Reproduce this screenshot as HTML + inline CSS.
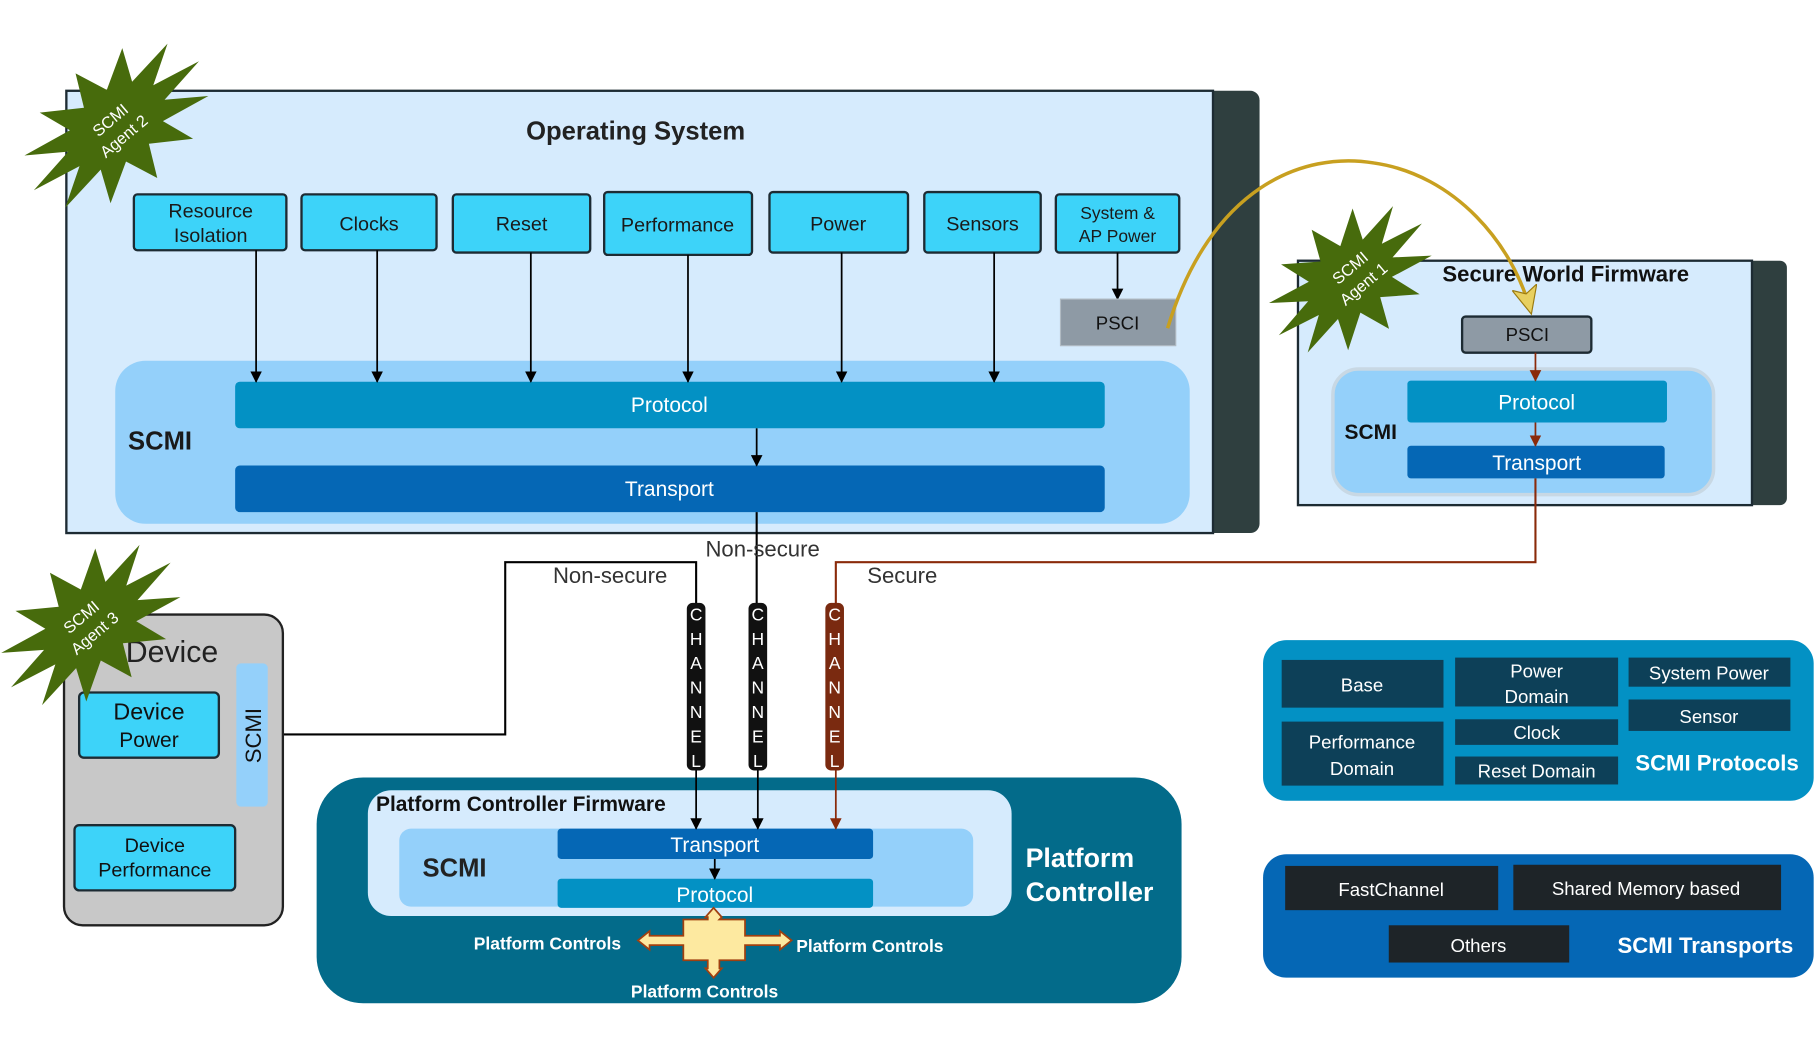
<!DOCTYPE html>
<html><head><meta charset="utf-8"><style>
html,body{margin:0;padding:0;background:#fff;}
svg{display:block;}
text{font-family:"Liberation Sans",sans-serif;}
</style></head><body>
<svg width="1816" height="1044" viewBox="0 0 1560 897" preserveAspectRatio="none" xmlns="http://www.w3.org/2000/svg">
<defs>
<marker id="ab" markerWidth="10" markerHeight="10" refX="9" refY="5" orient="auto" markerUnits="userSpaceOnUse"><path d="M0,0 L10,5 L0,10 z" fill="#000"/></marker>
<marker id="ar" markerWidth="10" markerHeight="10" refX="9" refY="5" orient="auto" markerUnits="userSpaceOnUse"><path d="M0,0 L10,5 L0,10 z" fill="#8a2a0a"/></marker>
<marker id="ag" markerWidth="26" markerHeight="22" refX="22" refY="11" orient="auto" markerUnits="userSpaceOnUse"><path d="M0,0 L24,11 L0,22 L6,11 z" fill="#e8d060" stroke="#9a7a10"/></marker>
<polygon id="star" points="60,0 30.9,8.3 52,30 22.6,22.6 30,52 8.3,30.9 0,60 -8.3,30.9 -30,52 -22.6,22.6 -52,30 -30.9,8.3 -60,0 -30.9,-8.3 -52,-30 -22.6,-22.6 -30,-52 -8.3,-30.9 0,-60 8.3,-30.9 30,-52 22.6,-22.6 52,-30 30.9,-8.3"/>
</defs>

<!-- Operating System -->
<rect x="1020" y="78" width="62" height="380" rx="8" fill="#2f3f3f"/>
<rect x="57" y="78" width="985" height="380" fill="#d6ebfd" stroke="#1d2b33" stroke-width="2"/>
<text x="546" y="120" font-size="22" font-weight="bold" text-anchor="middle" fill="#222">Operating System</text>

<g stroke="#1d2b33" stroke-width="2" fill="#3dd3f9">
<rect x="115" y="167" width="131" height="48" rx="3"/>
<rect x="259" y="167" width="116" height="48" rx="3"/>
<rect x="389" y="167" width="118" height="50" rx="3"/>
<rect x="519" y="165" width="127" height="54" rx="3"/>
<rect x="661" y="165" width="119" height="52" rx="3"/>
<rect x="794" y="165" width="100" height="52" rx="3"/>
<rect x="907" y="167" width="106" height="50" rx="3"/>
</g>
<g font-size="17" text-anchor="middle" fill="#1a1a1a">
<text x="181" y="187">Resource</text><text x="181" y="208">Isolation</text>
<text x="317" y="198">Clocks</text>
<text x="448" y="198">Reset</text>
<text x="582" y="199">Performance</text>
<text x="720" y="198">Power</text>
<text x="844" y="198">Sensors</text>
<text x="960" y="188" font-size="15">System &amp;</text><text x="960" y="208" font-size="15">AP Power</text>
</g>

<rect x="99" y="310" width="923" height="140" rx="26" fill="#94d0fa"/>
<text x="110" y="386" font-size="22" font-weight="bold" fill="#1a1a1a">SCMI</text>
<rect x="202" y="328" width="747" height="40" rx="4" fill="#0391c4"/>
<rect x="202" y="400" width="747" height="40" rx="4" fill="#0567b5"/>
<text x="575" y="354" font-size="18" fill="#fff" text-anchor="middle">Protocol</text>
<text x="575" y="426" font-size="18" fill="#fff" text-anchor="middle">Transport</text>

<g stroke="#000" stroke-width="1.5" marker-end="url(#ab)">
<line x1="220" y1="215" x2="220" y2="328"/>
<line x1="324" y1="215" x2="324" y2="328"/>
<line x1="456" y1="217" x2="456" y2="328"/>
<line x1="591" y1="219" x2="591" y2="328"/>
<line x1="723" y1="217" x2="723" y2="328"/>
<line x1="854" y1="217" x2="854" y2="328"/>
<line x1="960" y1="217" x2="960" y2="257"/>
<line x1="650" y1="368" x2="650" y2="400"/>
</g>
<rect x="911" y="257" width="99" height="40" fill="#8e9aa5" stroke="#b0bac2"/>
<text x="960" y="283" font-size="16" text-anchor="middle" fill="#111">PSCI</text>

<!-- Secure world -->
<rect x="1490" y="224" width="45" height="210" rx="6" fill="#2f3f3f"/>
<rect x="1115" y="224" width="390" height="210" fill="#d6ebfd" stroke="#1d2b33" stroke-width="2"/>
<text x="1345" y="242" font-size="19" font-weight="bold" text-anchor="middle" fill="#111">Secure World Firmware</text>
<rect x="1145" y="317" width="327" height="108" rx="22" fill="#94d0fa" stroke="#c8d8e4" stroke-width="3"/>
<text x="1155" y="377" font-size="18" font-weight="bold" fill="#111">SCMI</text>
<rect x="1256" y="272" width="111" height="31" rx="3" fill="#8e9aa5" stroke="#1d2b33" stroke-width="2"/>
<text x="1312" y="293" font-size="16" text-anchor="middle" fill="#111">PSCI</text>
<rect x="1209" y="327" width="223" height="36" rx="3" fill="#0391c4"/>
<rect x="1209" y="383" width="221" height="28" rx="3" fill="#0567b5"/>
<text x="1320" y="352" font-size="18" fill="#fff" text-anchor="middle">Protocol</text>
<text x="1320" y="404" font-size="18" fill="#fff" text-anchor="middle">Transport</text>
<g stroke="#8a2a0a" stroke-width="1.5" marker-end="url(#ar)">
<line x1="1319" y1="303" x2="1319" y2="327"/>
<line x1="1319" y1="363" x2="1319" y2="383"/>
</g>

<!-- curved gold arrow -->
<path d="M1003,282 C1040,160 1120,130 1180,140 C1250,150 1300,210 1315,268" fill="none" stroke="#c8a020" stroke-width="3" marker-end="url(#ag)"/>

<!-- connectors -->
<g fill="none" stroke-width="1.8">
<path d="M650,440 L650,520" stroke="#000"/>
<path d="M230,631 L434,631 L434,483 L598,483 L598,520" stroke="#000"/>
<path d="M1319,411 L1319,483 L718,483 L718,520" stroke="#8a2a0a"/>
</g>
<text x="606" y="478" font-size="19" fill="#333">Non-secure</text>
<text x="475" y="501" font-size="19" fill="#333">Non-secure</text>
<text x="745" y="501" font-size="19" fill="#333">Secure</text>

<!-- channels -->
<rect x="590" y="518" width="16" height="144" rx="5" fill="#111"/>
<rect x="643" y="518" width="16" height="144" rx="5" fill="#111"/>
<rect x="709" y="518" width="16" height="144" rx="5" fill="#7a2a10"/>
<g font-size="15" fill="#fff" text-anchor="middle">
<text x="598" y="533">C</text><text x="598" y="554">H</text><text x="598" y="575">A</text><text x="598" y="596">N</text><text x="598" y="617">N</text><text x="598" y="638">E</text><text x="598" y="659">L</text>
<text x="651" y="533">C</text><text x="651" y="554">H</text><text x="651" y="575">A</text><text x="651" y="596">N</text><text x="651" y="617">N</text><text x="651" y="638">E</text><text x="651" y="659">L</text>
<text x="717" y="533">C</text><text x="717" y="554">H</text><text x="717" y="575">A</text><text x="717" y="596">N</text><text x="717" y="617">N</text><text x="717" y="638">E</text><text x="717" y="659">L</text>
</g>

<!-- Platform controller -->
<rect x="272" y="668" width="743" height="194" rx="40" fill="#036b8a"/>
<rect x="316" y="679" width="553" height="108" rx="20" fill="#d6ebfd"/>
<text x="323" y="697" font-size="18" font-weight="bold" fill="#111">Platform Controller Firmware</text>
<rect x="343" y="712" width="493" height="67" rx="10" fill="#94d0fa"/>
<text x="363" y="753" font-size="22" font-weight="bold" fill="#222">SCMI</text>
<rect x="479" y="712" width="271" height="26" rx="3" fill="#0567b5"/>
<rect x="479" y="755" width="271" height="25" rx="3" fill="#0391c4"/>
<text x="614" y="732" font-size="18" fill="#fff" text-anchor="middle">Transport</text>
<text x="614" y="775" font-size="18" fill="#fff" text-anchor="middle">Protocol</text>
<g stroke-width="1.5" marker-end="url(#ab)" stroke="#000">
<line x1="598" y1="662" x2="598" y2="712"/>
<line x1="651" y1="662" x2="651" y2="712"/>
<line x1="614" y1="738" x2="614" y2="755"/>
</g>
<line x1="718" y1="662" x2="718" y2="712" stroke="#8a2a0a" stroke-width="1.5" marker-end="url(#ar)"/>
<text x="881" y="745" font-size="23" font-weight="bold" fill="#fff">Platform</text>
<text x="881" y="774" font-size="23" font-weight="bold" fill="#fff">Controller</text>
<!-- cross -->
<g fill="#fde9a0" stroke="#a04010" stroke-width="1.5">
<path d="M548,808 L558,800 L558,804 L587,804 L587,790 L608,790 L608,788 L606,788 L613,780 L620,788 L618,790 L640,790 L640,804 L670,804 L670,800 L680,808 L670,816 L670,812 L640,812 L640,825 L618,825 L618,832 L620,832 L613,840 L606,832 L608,832 L608,825 L587,825 L587,812 L558,812 L558,816 z"/>
</g>
<g font-size="15" font-weight="bold" fill="#fff">
<text x="407" y="816">Platform Controls</text>
<text x="684" y="818">Platform Controls</text>
<text x="542" y="857">Platform Controls</text>
</g>

<!-- Device -->
<rect x="55" y="528" width="188" height="267" rx="16" fill="#c8c8c8" stroke="#222" stroke-width="2"/>
<text x="108" y="569" font-size="26" fill="#222">Device</text>
<rect x="203" y="570" width="27" height="123" rx="4" fill="#94d0fa"/>
<text transform="translate(224,632) rotate(-90)" font-size="19" text-anchor="middle" fill="#111">SCMI</text>
<rect x="68" y="595" width="120" height="56" rx="4" fill="#3dd3f9" stroke="#1d2b33" stroke-width="2"/>
<text x="128" y="618" font-size="20" text-anchor="middle" fill="#111">Device</text>
<text x="128" y="642" font-size="18" text-anchor="middle" fill="#111">Power</text>
<rect x="64" y="709" width="138" height="56" rx="4" fill="#3dd3f9" stroke="#1d2b33" stroke-width="2"/>
<text x="133" y="732" font-size="17" text-anchor="middle" fill="#111">Device</text>
<text x="133" y="753" font-size="17" text-anchor="middle" fill="#111">Performance</text>

<!-- Stars -->
<use href="#star" fill="#476b0c" transform="translate(100,108) rotate(-38) scale(1.5,0.95)"/>
<text transform="translate(103,113) rotate(-40)" font-size="14" fill="#fff" text-anchor="middle"><tspan x="0" y="-8">SCMI</tspan><tspan x="0" y="10">Agent 2</tspan></text>
<use href="#star" fill="#476b0c" transform="translate(1160,240) rotate(-38) scale(1.3,0.9)"/>
<text transform="translate(1168,240) rotate(-40)" font-size="14" fill="#fff" text-anchor="middle"><tspan x="0" y="-8">SCMI</tspan><tspan x="0" y="10">Agent 1</tspan></text>
<use href="#star" fill="#476b0c" transform="translate(78,537) rotate(-38) scale(1.45,0.95)"/>
<text transform="translate(78,540) rotate(-40)" font-size="14" fill="#fff" text-anchor="middle"><tspan x="0" y="-8">SCMI</tspan><tspan x="0" y="10">Agent 3</tspan></text>

<!-- SCMI Protocols -->
<rect x="1085" y="550" width="473" height="138" rx="20" fill="#0391c4"/>
<g fill="#0d4058">
<rect x="1101" y="567" width="139" height="41"/>
<rect x="1250" y="565" width="140" height="42"/>
<rect x="1399" y="565" width="139" height="25"/>
<rect x="1399" y="601" width="139" height="27"/>
<rect x="1101" y="620" width="139" height="55"/>
<rect x="1250" y="618" width="140" height="22"/>
<rect x="1250" y="650" width="140" height="24"/>
</g>
<g font-size="16" fill="#fff" text-anchor="middle">
<text x="1170" y="594">Base</text>
<text x="1320" y="582">Power</text><text x="1320" y="604">Domain</text>
<text x="1468" y="584">System Power</text>
<text x="1468" y="621">Sensor</text>
<text x="1170" y="643">Performance</text><text x="1170" y="666">Domain</text>
<text x="1320" y="635">Clock</text>
<text x="1320" y="668">Reset Domain</text>
</g>
<text x="1475" y="662" font-size="19" font-weight="bold" fill="#fff" text-anchor="middle">SCMI Protocols</text>

<!-- SCMI Transports -->
<rect x="1085" y="734" width="473" height="106" rx="20" fill="#0567b5"/>
<g fill="#1e2428">
<rect x="1104" y="744" width="183" height="38"/>
<rect x="1300" y="743" width="230" height="39"/>
<rect x="1193" y="795" width="155" height="32"/>
</g>
<g font-size="16" fill="#fff" text-anchor="middle">
<text x="1195" y="770">FastChannel</text>
<text x="1414" y="769">Shared Memory based</text>
<text x="1270" y="818">Others</text>
</g>
<text x="1465" y="819" font-size="19" font-weight="bold" fill="#fff" text-anchor="middle">SCMI Transports</text>
</svg>
</body></html>
